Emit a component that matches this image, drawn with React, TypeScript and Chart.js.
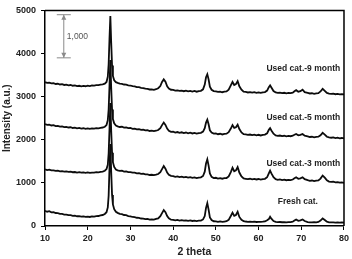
import { useEffect, useRef } from "react";
import { Chart, registerables } from "chart.js";

Chart.register(...registerables);

// Diffraction angle (2θ) sampling positions shared by all patterns
const angles = [
  10, 10.5, 11, 11.5, 12, 12.5, 13, 13.5, 14, 14.5, 15, 15.5, 16, 16.5, 17, 17.5, 18, 18.5, 19, 19.5, 20, 20.5, 21, 21.5, 22, 22.5, 23, 23.5, 24,
  24.4, 24.7, 24.9, 25.1, 25.3, 25.5, 25.7, 25.9, 26.2, 26.6,
  27, 27.5, 28, 28.5, 29, 29.5, 30, 30.5, 31, 31.5, 32, 32.5, 33, 33.5, 34, 34.5, 35, 35.5, 36, 36.5, 37,
  37.4, 37.8, 38.2, 38.6,
  39, 39.5, 40, 40.5, 41, 41.5, 42, 42.5, 43, 43.5, 44, 44.5, 45, 45.5, 46, 46.5, 47,
  47.4, 47.7, 48, 48.3, 48.6,
  49, 49.5, 50, 50.5, 51, 51.5, 52, 52.5, 53, 53.5,
  53.9, 54.3, 54.7, 55.1, 55.5,
  56, 56.5, 57, 57.5, 58, 58.5, 59, 59.5, 60, 60.5, 61, 61.5, 62,
  62.4, 62.7, 63,
  63.5, 64, 64.5, 65, 65.5, 66, 66.5, 67, 67.5, 68,
  68.4, 68.8, 69.3, 69.8, 70.3, 70.8,
  71.5, 72, 72.5, 73, 73.5, 74, 74.5, 75, 75.5, 76, 76.5, 77, 77.5, 78, 78.5, 79, 79.5, 80,
];

const freshCat = [
  352, 331, 343, 318, 322, 301, 299, 283, 281, 266, 264, 251, 250, 236, 239, 226, 229, 217, 221, 210, 219, 209, 222, 218, 231, 232, 248, 255, 279,
  320, 430, 700, 1350, 1900, 1250, 720, 500, 390, 330,
  305, 281, 277, 255, 251, 231, 225, 209, 204, 191, 188, 174, 173, 159, 162, 146, 153, 148, 163, 176, 228,
  300, 370, 320, 230,
  178, 146, 143, 132, 140, 127, 135, 123, 131, 120, 128, 116, 125, 114, 123, 124, 152,
  230, 420, 530, 380, 200,
  137, 110, 108, 98, 106, 96, 104, 112, 142, 232,
  310, 235, 255, 330, 210,
  145, 112, 104, 98, 101, 95, 99, 93, 97, 94, 99, 106, 135,
  160, 215, 170,
  115, 96, 90, 93, 87, 91, 85, 89, 92, 100,
  125, 150, 120, 130, 150, 115,
  92, 86, 84, 88, 85, 95, 125, 175, 140, 100, 86, 82, 85, 79, 83, 78, 81, 76,
];

const usedCat3Month = [
  1312, 1296, 1305, 1288, 1291, 1279, 1283, 1268, 1274, 1262, 1266, 1254, 1259, 1247, 1252, 1240, 1249, 1236, 1244, 1233, 1242, 1231, 1240, 1238, 1247, 1244, 1256, 1262, 1281,
  1320, 1420, 1680, 2250, 2850, 2200, 1700, 1480, 1370, 1310,
  1292, 1279, 1281, 1262, 1266, 1249, 1251, 1236, 1239, 1222, 1226, 1208, 1212, 1196, 1199, 1183, 1188, 1179, 1190, 1206, 1250,
  1320, 1390, 1330, 1240,
  1190, 1162, 1157, 1141, 1150, 1133, 1144, 1128, 1139, 1122, 1133, 1116, 1127, 1110, 1122, 1128, 1160,
  1260, 1450, 1545, 1400, 1220,
  1140, 1112, 1118, 1101, 1110, 1096, 1108, 1112, 1150, 1250,
  1350, 1270, 1290, 1365, 1240,
  1150, 1102, 1095, 1088, 1096, 1082, 1093, 1079, 1090, 1076, 1089, 1094, 1130,
  1220, 1285, 1220,
  1130, 1085, 1072, 1080, 1066, 1075, 1062, 1071, 1064, 1078,
  1105, 1130, 1095, 1105, 1130, 1085,
  1062, 1048, 1055, 1041, 1050, 1058, 1100, 1170, 1120, 1060, 1030, 1022, 1028, 1014, 1019, 1006, 1010, 998,
];

const usedCat5Month = [
  2362, 2344, 2351, 2331, 2338, 2317, 2323, 2305, 2311, 2293, 2300, 2284, 2290, 2273, 2281, 2264, 2273, 2258, 2267, 2253, 2264, 2251, 2262, 2258, 2269, 2266, 2278, 2284, 2302,
  2340, 2450, 2700, 3250, 3850, 3200, 2700, 2480, 2380, 2330,
  2312, 2296, 2301, 2281, 2287, 2268, 2273, 2254, 2260, 2241, 2247, 2229, 2236, 2217, 2224, 2203, 2211, 2199, 2209, 2226, 2268,
  2340, 2400, 2345, 2260,
  2210, 2183, 2188, 2168, 2179, 2161, 2173, 2155, 2168, 2150, 2163, 2146, 2159, 2142, 2156, 2160, 2190,
  2270, 2400, 2465, 2360, 2220,
  2165, 2141, 2146, 2128, 2139, 2123, 2136, 2140, 2175, 2260,
  2340, 2275, 2290, 2350, 2250,
  2170, 2128, 2123, 2112, 2121, 2107, 2118, 2103, 2115, 2100, 2113, 2119, 2150,
  2230, 2270, 2215,
  2140, 2102, 2091, 2098, 2084, 2093, 2079, 2089, 2082, 2094,
  2115, 2135, 2105, 2112, 2135, 2095,
  2078, 2064, 2070, 2057, 2066, 2072, 2105, 2160, 2120, 2070, 2053, 2047, 2053, 2040, 2047, 2034, 2041, 2030,
];

const usedCat9Month = [
  3335, 3318, 3324, 3306, 3311, 3293, 3299, 3282, 3289, 3271, 3279, 3262, 3270, 3253, 3261, 3244, 3252, 3238, 3249, 3241, 3254, 3246, 3259, 3257, 3268, 3266, 3278, 3285, 3300,
  3340, 3460, 3750, 4350, 4870, 4250, 3720, 3480, 3380, 3335,
  3318, 3301, 3297, 3281, 3279, 3262, 3258, 3242, 3238, 3221, 3219, 3203, 3199, 3184, 3180, 3166, 3168, 3159, 3172, 3195, 3245,
  3340, 3400, 3345, 3240,
  3190, 3160, 3158, 3141, 3147, 3132, 3141, 3126, 3137, 3121, 3134, 3117, 3131, 3114, 3129, 3136, 3170,
  3280, 3450, 3520, 3400, 3230,
  3160, 3128, 3121, 3109, 3117, 3102, 3114, 3120, 3160, 3260,
  3340, 3270, 3290, 3360, 3240,
  3160, 3115, 3108, 3097, 3106, 3092, 3103, 3089, 3100, 3086, 3099, 3106, 3140,
  3220, 3260, 3210,
  3130, 3096, 3087, 3094, 3081, 3090, 3077, 3087, 3080, 3093,
  3125, 3150, 3115, 3125, 3160, 3105,
  3086, 3073, 3079, 3066, 3075, 3082, 3120, 3180, 3135, 3085, 3068, 3062, 3069, 3056, 3064, 3052, 3060, 3050,
];

const seriesNames = ["Fresh cat.", "Used cat.-3 month", "Used cat.-5 month", "Used cat.-9 month"];
const seriesValues = [freshCat, usedCat3Month, usedCat5Month, usedCat9Month];

// Where each pattern's name is written (right edge in 2θ, vertical centre in intensity)
const nameAnchorX = [73.9, 79.1, 79.1, 79.1];
const nameAnchorY = [575, 1440, 2505, 3650];

const xTicks = [10, 20, 30, 40, 50, 60, 70, 80];
const yTicks = [0, 1000, 2000, 3000, 4000, 5000];

// Intensity scale bar
const scaleBarAngle = 14.4;
const scaleBarBase = 3900;
const scaleBarSpan = 1000;
const scaleBarLabel = "1,000";

const FONT = "'Liberation Sans', Arial, Helvetica, sans-serif";

export default function App() {
  const canvasRef = useRef<HTMLCanvasElement>(null);

  useEffect(() => {
    const canvas = canvasRef.current;
    if (!canvas) return;

    const framePlugin = {
      id: "frame",
      afterDatasetsDraw(chart: any) {
        const { ctx, chartArea } = chart;
        const { left, top, right, bottom } = chartArea;
        ctx.save();
        ctx.strokeStyle = "#000";
        ctx.lineWidth = 1.5;
        ctx.beginPath();
        ctx.moveTo(left, top);
        ctx.lineTo(right, top);
        ctx.lineTo(right, bottom);
        ctx.stroke();
        ctx.restore();
      },
    };

    const namesPlugin = {
      id: "patternNames",
      afterDatasetsDraw(chart: any) {
        const { ctx, scales } = chart;
        ctx.save();
        ctx.font = `bold 8.5px ${FONT}`;
        ctx.fillStyle = "#222";
        ctx.textAlign = "right";
        ctx.textBaseline = "middle";
        seriesNames.forEach((name, i) => {
          const px = scales.x.getPixelForValue(nameAnchorX[i]);
          const py = scales.y.getPixelForValue(nameAnchorY[i]);
          ctx.fillText(name, px, py);
        });
        ctx.restore();
      },
    };

    const scaleBarPlugin = {
      id: "scaleBar",
      afterDatasetsDraw(chart: any) {
        const { ctx, scales } = chart;
        const x = scales.x.getPixelForValue(scaleBarAngle);
        const yLow = scales.y.getPixelForValue(scaleBarBase);
        const yHigh = scales.y.getPixelForValue(scaleBarBase + scaleBarSpan);
        const cap = 7;
        const head = 2.5;
        const headLen = 5;
        ctx.save();
        ctx.strokeStyle = "#8a8a8a";
        ctx.fillStyle = "#8a8a8a";
        ctx.lineWidth = 1;
        ctx.beginPath();
        ctx.moveTo(x - cap, yHigh);
        ctx.lineTo(x + cap, yHigh);
        ctx.moveTo(x - cap, yLow);
        ctx.lineTo(x + cap, yLow);
        ctx.moveTo(x, yHigh);
        ctx.lineTo(x, yLow);
        ctx.stroke();
        ctx.beginPath();
        ctx.moveTo(x, yHigh);
        ctx.lineTo(x - head, yHigh + headLen);
        ctx.lineTo(x + head, yHigh + headLen);
        ctx.closePath();
        ctx.moveTo(x, yLow);
        ctx.lineTo(x - head, yLow - headLen);
        ctx.lineTo(x + head, yLow - headLen);
        ctx.closePath();
        ctx.fill();
        ctx.font = `8.5px ${FONT}`;
        ctx.fillStyle = "#555";
        ctx.textAlign = "left";
        ctx.textBaseline = "middle";
        ctx.fillText(scaleBarLabel, x + 3, (yLow + yHigh) / 2);
        ctx.restore();
      },
    };

    const tickFont = { family: FONT, size: 9, weight: "bold" as const };

    const chart = new Chart(canvas, {
      type: "line",
      data: {
        datasets: seriesValues.map((vals, i) => ({
          label: seriesNames[i],
          data: angles.map((a, k) => ({ x: a, y: vals[k] })),
          borderColor: "#0c0c0c",
          borderWidth: 1.8,
          pointRadius: 0,
          tension: 0,
          fill: false,
        })),
      },
      options: {
        animation: false,
        responsive: false,
        devicePixelRatio: 1,
        layout: { padding: { top: 8, right: 6, left: 0, bottom: 0 } },
        plugins: { legend: { display: false }, tooltip: { enabled: false } },
        scales: {
          x: {
            type: "linear",
            min: 10,
            max: 80,
            afterBuildTicks: (s: any) => {
              s.ticks = xTicks.map((v) => ({ value: v }));
            },
            ticks: { font: tickFont, color: "#222", padding: 3, maxRotation: 0, callback: (v: any) => String(v) },
            grid: { drawOnChartArea: false, tickLength: 4, color: "#000" },
            border: { color: "#000", width: 1.5 },
            title: {
              display: true,
              text: "2 theta",
              font: { family: FONT, size: 10.5, weight: "bold" },
              color: "#222",
              padding: { top: 0, bottom: 1 },
            },
            afterFit: (s: any) => {
              s.height = 33;
            },
          },
          y: {
            type: "linear",
            min: 0,
            max: 5000,
            afterBuildTicks: (s: any) => {
              s.ticks = yTicks.map((v) => ({ value: v }));
            },
            ticks: { font: tickFont, color: "#222", padding: 5, callback: (v: any) => String(v) },
            grid: { drawOnChartArea: false, tickLength: 4, color: "#000" },
            border: { color: "#000", width: 1.5 },
            title: {
              display: true,
              text: "Intensity (a.u.)",
              font: { family: FONT, size: 10, weight: "bold" },
              color: "#222",
              padding: { top: 1.5, bottom: 0 },
            },
            afterFit: (s: any) => {
              s.width = 45;
            },
          },
        },
      },
      plugins: [framePlugin, namesPlugin, scaleBarPlugin],
    });

    return () => chart.destroy();
  }, []);

  return (
    <div style={{ position: "absolute", left: 0, top: 0, width: 352, height: 259, background: "#fff" }}>
      <canvas ref={canvasRef} width={352} height={259} style={{ display: "block" }} />
    </div>
  );
}
